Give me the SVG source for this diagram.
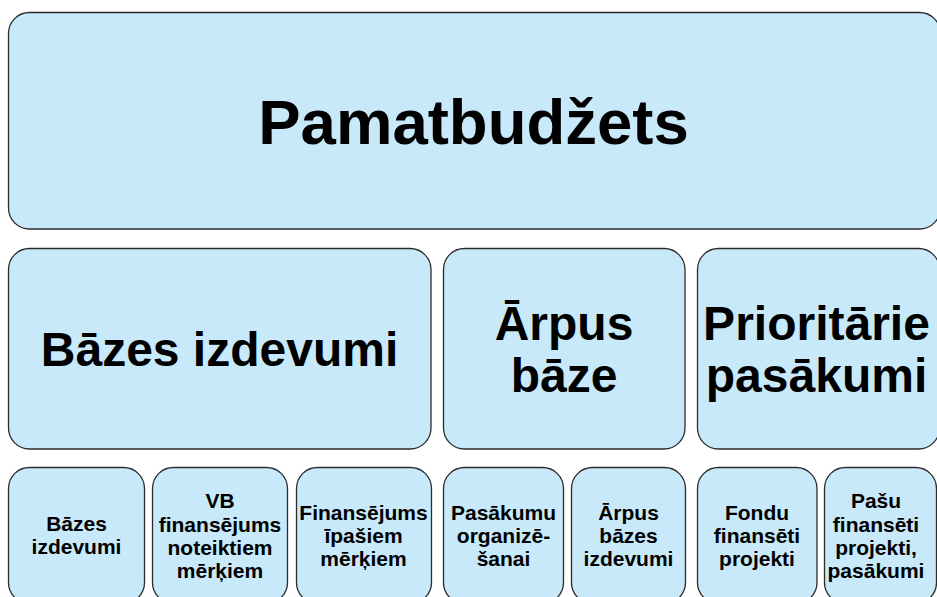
<svg xmlns="http://www.w3.org/2000/svg" width="937" height="597" viewBox="0 0 937 597">
<style>
.box{fill:#C7E9F9;stroke:#2b2b2b;stroke-width:1.3}
.t{font-family:"Liberation Sans",Arial,sans-serif;font-weight:bold;fill:#000;text-anchor:middle}
.big{font-size:63.5px}
.mid{font-size:48px}
.sm{font-size:21px}
</style>
<rect width="937" height="597" fill="#fff"/>
<g id="connectors"></g>
<g id="pamatbudzets"><rect class="box" x="8.5" y="12.5" width="932" height="216.5" rx="21"/><text class="t big" x="473.5" y="143.5">Pamatbudžets</text></g>
<g id="bazes-izdevumi"><rect class="box" x="8.5" y="248.5" width="422.5" height="200.5" rx="21"/><text class="t mid" x="219.5" y="366">Bāzes izdevumi</text></g>
<g id="arpus-baze"><rect class="box" x="443.5" y="248.5" width="241.5" height="200.5" rx="21"/><text class="t mid" x="564" y="340">Ārpus</text><text class="t mid" x="564" y="392">bāze</text></g>
<g id="prioritarie"><rect class="box" x="697.5" y="248.5" width="242" height="200.5" rx="21"/><text class="t mid" x="816.5" y="340">Prioritārie</text><text class="t mid" x="816.5" y="392">pasākumi</text></g>
<g id="b1"><rect class="box" x="8.5" y="467.5" width="136" height="136" rx="21"/><text class="t sm" x="76.5" y="531">Bāzes</text><text class="t sm" x="76.5" y="554">izdevumi</text></g>
<g id="b2"><rect class="box" x="152.5" y="467.5" width="135" height="136" rx="21"/><text class="t sm" x="220" y="508">VB</text><text class="t sm" x="220" y="531.5">finansējums</text><text class="t sm" x="220" y="554.5">noteiktiem</text><text class="t sm" x="220" y="577.5">mērķiem</text></g>
<g id="b3"><rect class="box" x="296.5" y="467.5" width="135" height="136" rx="21"/><text class="t sm" x="363.5" y="520">Finansējums</text><text class="t sm" x="363.5" y="543">īpašiem</text><text class="t sm" x="363.5" y="566">mērķiem</text></g>
<g id="b4"><rect class="box" x="443.5" y="467.5" width="120" height="136" rx="21"/><text class="t sm" x="503.5" y="520">Pasākumu</text><text class="t sm" x="503.5" y="543">organizē-</text><text class="t sm" x="503.5" y="566">šanai</text></g>
<g id="b5"><rect class="box" x="571.5" y="467.5" width="114" height="136" rx="21"/><text class="t sm" x="628.5" y="520">Ārpus</text><text class="t sm" x="628.5" y="543">bāzes</text><text class="t sm" x="628.5" y="566">izdevumi</text></g>
<g id="b6"><rect class="box" x="697.5" y="467.5" width="119.5" height="136" rx="21"/><text class="t sm" x="757" y="520">Fondu</text><text class="t sm" x="757" y="543">finansēti</text><text class="t sm" x="757" y="566">projekti</text></g>
<g id="b7"><rect class="box" x="824.5" y="467.5" width="112" height="136" rx="21"/><text class="t sm" x="876" y="508">Pašu</text><text class="t sm" x="876" y="531.5">finansēti</text><text class="t sm" x="876" y="554.5">projekti,</text><text class="t sm" x="876" y="577.5">pasākumi</text></g>
</svg>
